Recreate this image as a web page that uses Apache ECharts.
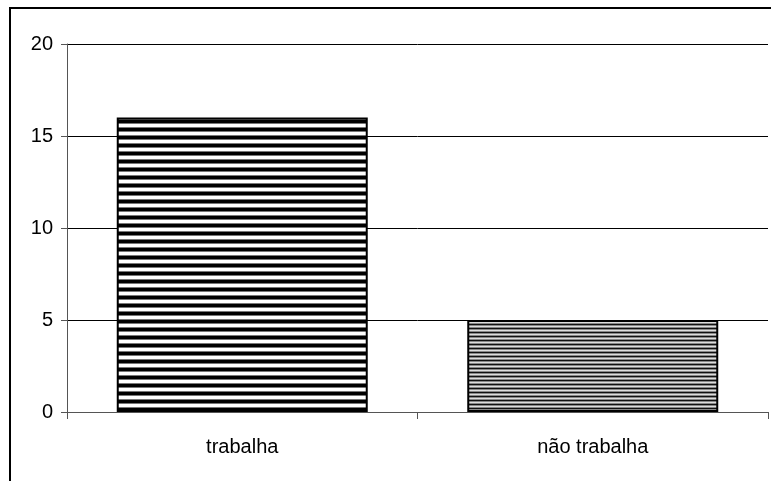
<!DOCTYPE html>
<html>
<head>
<meta charset="utf-8">
<script src="https://cdn.jsdelivr.net/npm/echarts@6/dist/echarts.min.js"></script>
<style>
  html, body { margin: 0; padding: 0; background: #fff; }
  #main { width: 771px; height: 481px; }
</style>
</head>
<body>
<div id="main"></div>
<script>
var categories = ['trabalha', 'não trabalha'];
var values = [16, 5];
var yTicks = [0, 5, 10, 15, 20];

// striped fills, one row of colours per pixel line
function stripes(rows) {
    var c = document.createElement('canvas');
    c.width = 4;
    c.height = rows.length;
    var ctx = c.getContext('2d');
    for (var i = 0; i < rows.length; i++) {
        ctx.fillStyle = rows[i];
        ctx.fillRect(0, i, 4, 1);
    }
    return c;
}
var fillA = stripes(['#000', '#000', '#000', '#777', '#fff', '#fff', '#fff', '#777']);
var fillB = stripes(['#111', '#888', '#ddd', '#888']);
var fills = [fillA, fillB];

var chart = echarts.init(document.getElementById('main'));
var option = {
    animation: false,
    grid: { left: 67, right: 3, top: 44, bottom: 69 },
    graphic: [{
        type: 'rect',
        shape: { x: 10, y: 8, width: 800, height: 520 },
        style: { fill: 'none', stroke: '#000', lineWidth: 2 },
        silent: true
    }],
    xAxis: {
        type: 'category',
        data: categories,
        axisTick: { show: true, alignWithLabel: false, length: 7, lineStyle: { color: '#555' } },
        axisLine: { lineStyle: { color: '#555', width: 1 } },
        axisLabel: { color: '#000', fontSize: 20, fontFamily: 'Liberation Sans, Arial', margin: 25 }
    },
    yAxis: {
        type: 'value',
        min: yTicks[0],
        max: yTicks[yTicks.length - 1],
        interval: 5,
        axisLine: { show: true, lineStyle: { color: '#555', width: 1 } },
        axisTick: { show: true, length: 6, lineStyle: { color: '#555' } },
        axisLabel: { color: '#000', fontSize: 20, fontFamily: 'Liberation Sans, Arial', margin: 14 },
        splitLine: { lineStyle: { color: '#000', width: 1 } }
    },
    series: [{
        type: 'bar',
        barWidth: 251,
        data: values.map(function (v, i) {
            return {
                value: v,
                itemStyle: {
                    color: { image: fills[i], repeat: 'repeat' },
                    borderColor: '#000',
                    borderWidth: 2
                }
            };
        })
    }]
};
chart.setOption(option);
</script>
</body>
</html>
